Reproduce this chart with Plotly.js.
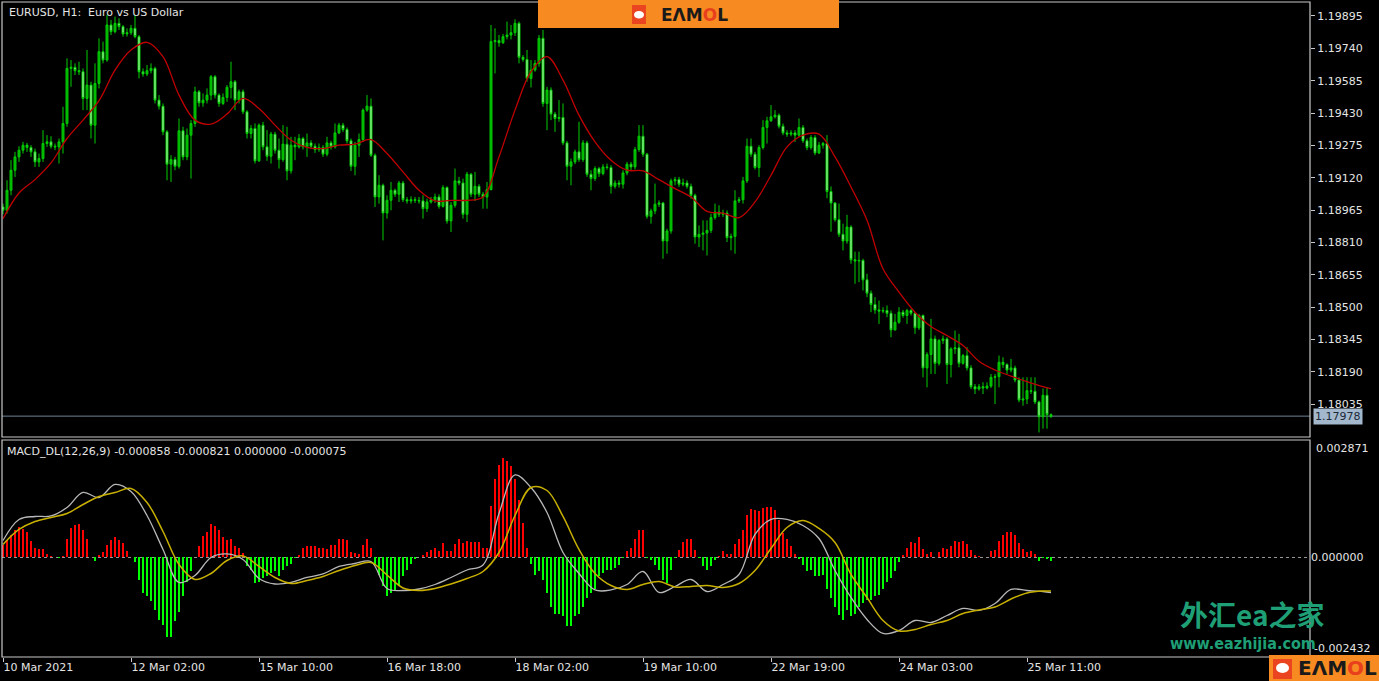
<!DOCTYPE html>
<html><head><meta charset="utf-8">
<script src="https://cdn.plot.ly/plotly-3.0.1.min.js"></script>
<style>html,body{margin:0;padding:0;background:#000;overflow:hidden}#chart{width:1379px;height:681px}</style>
</head><body><div id="chart"></div>
<script>
// ---------------- data ----------------
const symbolTitle = 'EURUSD, H1:  Euro vs US Dollar';
const macdTitle = 'MACD_DL(12,26,9) -0.000858 -0.000821 0.000000 -0.000075';
const timeTickBars = [0, 32, 64, 96, 128, 160, 192, 224, 256];
const timeTickLabels = ['10 Mar 2021', '12 Mar 02:00', '15 Mar 10:00', '16 Mar 18:00', '18 Mar 02:00', '19 Mar 10:00', '22 Mar 19:00', '24 Mar 03:00', '25 Mar 11:00'];
const priceTicks = [1.19895, 1.19740, 1.19585, 1.19430, 1.19275, 1.19120, 1.18965, 1.18810, 1.18655, 1.18500, 1.18345, 1.18190, 1.18035];
const lastPrice = 1.17978;
const macdMax = 0.002871;
const macdMin = -0.002432;

const open = [
1.18980,1.18964,1.19060,1.19156,1.19220,1.19252,1.19276,1.19265,1.19244,1.19196,
1.19212,1.19284,1.19292,1.19271,1.19268,1.19292,1.19380,1.19644,1.19649,1.19633,
1.19628,1.19500,1.19564,1.19372,1.19572,1.19724,1.19684,1.19852,1.19820,1.19860,
1.19844,1.19809,1.19815,1.19836,1.19796,1.19628,1.19617,1.19633,1.19644,1.19492,
1.19463,1.19340,1.19185,1.19207,1.19175,1.19345,1.19220,1.19324,1.19380,1.19532,
1.19479,1.19492,1.19516,1.19604,1.19516,1.19476,1.19505,1.19553,1.19580,1.19492,
1.19532,1.19436,1.19332,1.19356,1.19201,1.19372,1.19268,1.19223,1.19329,1.19252,
1.19207,1.19281,1.19153,1.19276,1.19268,1.19308,1.19268,1.19287,1.19271,1.19255,
1.19265,1.19233,1.19287,1.19268,1.19335,1.19372,1.19351,1.19297,1.19175,1.19276,
1.19303,1.19444,1.19463,1.19228,1.19028,1.19084,1.18951,1.19012,1.19060,1.19041,
1.19095,1.19015,1.19009,1.19015,1.19012,1.19009,1.18972,1.19004,1.19015,1.19028,
1.18983,1.19073,1.18913,1.18988,1.19105,1.19095,1.18945,1.19137,1.19041,1.19079,
1.19041,1.19028,1.19063,1.19772,1.19777,1.19767,1.19796,1.19804,1.19815,1.19860,
1.19697,1.19687,1.19596,1.19636,1.19668,1.19788,1.19476,1.19540,1.19425,1.19404,
1.19409,1.19287,1.19175,1.19196,1.19244,1.19207,1.19287,1.19137,1.19116,1.19164,
1.19140,1.19172,1.19169,1.19079,1.19095,1.19089,1.19143,1.19185,1.19172,1.19255,
1.19319,1.19233,1.18935,1.18961,1.18993,1.18999,1.18817,1.18865,1.19105,1.19111,
1.19089,1.19095,1.19079,1.19036,1.18836,1.18849,1.18855,1.18868,1.18929,1.18956,
1.18945,1.18951,1.18833,1.18839,1.19009,1.19015,1.19105,1.19271,1.19233,1.19169,
1.19265,1.19361,1.19393,1.19412,1.19420,1.19367,1.19335,1.19329,1.19335,1.19324,
1.19361,1.19297,1.19265,1.19313,1.19239,1.19276,1.19284,1.19054,1.18999,1.18919,
1.18849,1.18817,1.18884,1.18727,1.18721,1.18724,1.18631,1.18567,1.18513,1.18487,
1.18481,1.18484,1.18471,1.18391,1.18428,1.18476,1.18460,1.18484,1.18471,1.18401,
1.18460,1.18209,1.18273,1.18348,1.18231,1.18340,1.18348,1.18225,1.18300,1.18305,
1.18231,1.18268,1.18209,1.18119,1.18108,1.18119,1.18113,1.18122,1.18164,1.18167,
1.18236,1.18225,1.18199,1.18209,1.18151,1.18055,1.18060,1.18100,1.18097,1.18046,
1.17975,1.18078,1.17985];

const high = [
1.18996,1.19108,1.19204,1.19244,1.19271,1.19292,1.19287,1.19276,1.19260,1.19236,
1.19348,1.19324,1.19319,1.19284,1.19308,1.19460,1.19692,1.19684,1.19668,1.19676,
1.19644,1.19732,1.19580,1.19668,1.19788,1.19772,1.19900,1.19876,1.19892,1.19884,
1.19852,1.19836,1.19852,1.19900,1.19804,1.19644,1.19660,1.19668,1.19652,1.19516,
1.19476,1.19348,1.19228,1.19220,1.19404,1.19364,1.19356,1.19396,1.19556,1.19540,
1.19524,1.19548,1.19612,1.19612,1.19524,1.19524,1.19564,1.19676,1.19588,1.19543,
1.19543,1.19444,1.19372,1.19380,1.19380,1.19388,1.19348,1.19340,1.19340,1.19308,
1.19372,1.19364,1.19316,1.19316,1.19329,1.19316,1.19332,1.19300,1.19284,1.19284,
1.19276,1.19316,1.19297,1.19380,1.19383,1.19383,1.19361,1.19308,1.19292,1.19332,
1.19452,1.19516,1.19500,1.19236,1.19132,1.19092,1.19036,1.19100,1.19068,1.19105,
1.19105,1.19028,1.19031,1.19028,1.19028,1.19036,1.19020,1.19028,1.19044,1.19041,
1.19084,1.19079,1.19004,1.19164,1.19124,1.19116,1.19148,1.19143,1.19148,1.19089,
1.19052,1.19100,1.19852,1.19836,1.19804,1.19809,1.19868,1.19852,1.19879,1.19868,
1.19708,1.19732,1.19684,1.19684,1.19804,1.19828,1.19556,1.19553,1.19436,1.19492,
1.19476,1.19297,1.19212,1.19255,1.19388,1.19300,1.19297,1.19156,1.19175,1.19172,
1.19185,1.19188,1.19180,1.19108,1.19108,1.19156,1.19196,1.19196,1.19268,1.19372,
1.19372,1.19239,1.18972,1.19092,1.19012,1.19004,1.18876,1.19116,1.19124,1.19124,
1.19116,1.19108,1.19092,1.19044,1.18892,1.18916,1.18916,1.18948,1.18996,1.18988,
1.18967,1.18964,1.18852,1.19060,1.19028,1.19124,1.19308,1.19308,1.19244,1.19276,
1.19396,1.19412,1.19468,1.19444,1.19428,1.19380,1.19348,1.19348,1.19348,1.19404,
1.19372,1.19308,1.19324,1.19324,1.19292,1.19292,1.19324,1.19078,1.19004,1.18996,
1.18900,1.18942,1.18892,1.18766,1.18766,1.18732,1.18660,1.18580,1.18548,1.18532,
1.18500,1.18508,1.18484,1.18468,1.18500,1.18487,1.18492,1.18492,1.18476,1.18468,
1.18465,1.18284,1.18444,1.18364,1.18348,1.18364,1.18356,1.18308,1.18388,1.18372,
1.18276,1.18308,1.18222,1.18132,1.18132,1.18140,1.18140,1.18180,1.18180,1.18268,
1.18260,1.18231,1.18252,1.18220,1.18164,1.18164,1.18164,1.18164,1.18164,1.18052,
1.18110,1.18116,1.17991];

const low = [
1.18945,1.18948,1.19036,1.19124,1.19196,1.19236,1.19244,1.19220,1.19172,1.19172,
1.19196,1.19268,1.19260,1.19252,1.19188,1.19236,1.19364,1.19556,1.19612,1.19612,
1.19444,1.19444,1.19308,1.19284,1.19548,1.19668,1.19676,1.19804,1.19812,1.19828,
1.19796,1.19796,1.19804,1.19788,1.19596,1.19604,1.19607,1.19620,1.19476,1.19447,
1.19324,1.19108,1.19100,1.19156,1.19164,1.19204,1.19204,1.19116,1.19364,1.19460,
1.19460,1.19476,1.19492,1.19500,1.19460,1.19468,1.19484,1.19500,1.19444,1.19476,
1.19425,1.19308,1.19308,1.19188,1.19196,1.19252,1.19201,1.19188,1.19236,1.19164,
1.19196,1.19108,1.19140,1.19204,1.19260,1.19255,1.19220,1.19260,1.19239,1.19244,
1.19220,1.19223,1.19255,1.19260,1.19329,1.19340,1.19284,1.19153,1.19132,1.19220,
1.19292,1.19436,1.19220,1.18980,1.18996,1.18820,1.18924,1.18964,1.19028,1.19004,
1.19004,1.18996,1.18996,1.18999,1.18996,1.18924,1.18956,1.18996,1.18999,1.18972,
1.18977,1.18900,1.18860,1.18977,1.19084,1.18924,1.18908,1.19028,1.19009,1.19028,
1.18972,1.18972,1.19060,1.19620,1.19748,1.19761,1.19783,1.19783,1.19799,1.19668,
1.19676,1.19580,1.19553,1.19628,1.19652,1.19460,1.19348,1.19396,1.19340,1.19388,
1.19276,1.19108,1.19084,1.19185,1.19196,1.19196,1.19124,1.19060,1.19105,1.19124,
1.19132,1.19159,1.19044,1.19068,1.19073,1.19068,1.19132,1.19156,1.19159,1.19244,
1.19220,1.18924,1.18900,1.18945,1.18980,1.18732,1.18756,1.18852,1.19084,1.19076,
1.19079,1.19068,1.19020,1.18804,1.18788,1.18772,1.18748,1.18855,1.18919,1.18932,
1.18932,1.18812,1.18772,1.18756,1.18999,1.18996,1.19095,1.19220,1.19159,1.19124,
1.19255,1.19284,1.19388,1.19404,1.19356,1.19324,1.19316,1.19319,1.19292,1.19316,
1.19287,1.19252,1.19255,1.19228,1.19233,1.19260,1.19022,1.18862,1.18910,1.18836,
1.18772,1.18804,1.18708,1.18612,1.18620,1.18580,1.18548,1.18476,1.18468,1.18420,
1.18471,1.18452,1.18356,1.18388,1.18420,1.18449,1.18420,1.18460,1.18372,1.18391,
1.18164,1.18116,1.18180,1.18180,1.18220,1.18324,1.18132,1.18164,1.18276,1.18212,
1.18225,1.18196,1.18108,1.18084,1.18100,1.18084,1.18106,1.18113,1.18036,1.18116,
1.18209,1.18180,1.18188,1.18140,1.18044,1.18028,1.18036,1.18084,1.18036,1.17900,
1.17918,1.17918,1.17969];

const close = [
1.18964,1.19060,1.19156,1.19220,1.19252,1.19276,1.19265,1.19244,1.19196,1.19212,
1.19284,1.19292,1.19271,1.19268,1.19292,1.19380,1.19644,1.19649,1.19633,1.19628,
1.19500,1.19564,1.19372,1.19572,1.19724,1.19684,1.19852,1.19820,1.19860,1.19844,
1.19809,1.19815,1.19836,1.19796,1.19628,1.19617,1.19633,1.19644,1.19492,1.19463,
1.19340,1.19185,1.19207,1.19175,1.19345,1.19220,1.19324,1.19380,1.19532,1.19479,
1.19492,1.19516,1.19604,1.19516,1.19476,1.19505,1.19553,1.19580,1.19492,1.19532,
1.19436,1.19332,1.19356,1.19201,1.19372,1.19268,1.19223,1.19329,1.19252,1.19207,
1.19281,1.19153,1.19276,1.19268,1.19308,1.19268,1.19287,1.19271,1.19255,1.19265,
1.19233,1.19287,1.19268,1.19335,1.19372,1.19351,1.19297,1.19175,1.19276,1.19303,
1.19444,1.19463,1.19228,1.19028,1.19084,1.18951,1.19012,1.19060,1.19041,1.19095,
1.19015,1.19009,1.19015,1.19012,1.19009,1.18972,1.19004,1.19015,1.19028,1.18983,
1.19073,1.18913,1.18988,1.19105,1.19095,1.18945,1.19137,1.19041,1.19079,1.19041,
1.19028,1.19063,1.19772,1.19777,1.19767,1.19796,1.19804,1.19815,1.19860,1.19697,
1.19687,1.19596,1.19636,1.19668,1.19788,1.19476,1.19540,1.19425,1.19404,1.19409,
1.19287,1.19175,1.19196,1.19244,1.19207,1.19287,1.19137,1.19116,1.19164,1.19140,
1.19172,1.19169,1.19079,1.19095,1.19089,1.19143,1.19185,1.19172,1.19255,1.19319,
1.19233,1.18935,1.18961,1.18993,1.18999,1.18817,1.18865,1.19105,1.19111,1.19089,
1.19095,1.19079,1.19036,1.18836,1.18849,1.18855,1.18868,1.18929,1.18956,1.18945,
1.18951,1.18833,1.18839,1.19009,1.19015,1.19105,1.19271,1.19233,1.19169,1.19265,
1.19361,1.19393,1.19412,1.19420,1.19367,1.19335,1.19329,1.19335,1.19324,1.19361,
1.19297,1.19265,1.19313,1.19239,1.19276,1.19284,1.19054,1.18999,1.18919,1.18849,
1.18817,1.18884,1.18727,1.18721,1.18724,1.18631,1.18567,1.18513,1.18487,1.18481,
1.18484,1.18471,1.18391,1.18428,1.18476,1.18460,1.18484,1.18471,1.18401,1.18460,
1.18209,1.18273,1.18348,1.18231,1.18340,1.18348,1.18225,1.18300,1.18305,1.18231,
1.18268,1.18209,1.18119,1.18108,1.18119,1.18113,1.18122,1.18164,1.18167,1.18236,
1.18225,1.18199,1.18209,1.18151,1.18055,1.18060,1.18100,1.18097,1.18046,1.17975,
1.18078,1.17985,1.17978];

// bar positions at which the moving average and MACD lines were read
const lineIdx = [0,4,8,12,16,20,24,28,32,36,40,44,48,52,56,60,64,68,72,76,80,84,88,92,96,100,104,108,112,116,
120,124,128,132,136,140,144,148,152,156,160,164,168,172,176,180,184,188,192,196,200,204,208,212,216,220,224,228,
232,236,240,244,248,252,256,260,262];

const maValues = [
1.18924,1.19047,1.19111,1.19191,1.19308,1.19396,1.19489,1.19636,1.19732,1.19769,
1.19700,1.19516,1.19396,1.19377,1.19425,1.19500,1.19452,1.19372,1.19300,1.19265,
1.19260,1.19276,1.19281,1.19303,1.19236,1.19148,1.19060,1.19009,1.19012,1.19012,
1.19028,1.19220,1.19444,1.19628,1.19700,1.19588,1.19420,1.19292,1.19204,1.19156,
1.19153,1.19111,1.19068,1.19028,1.18959,1.18951,1.18929,1.19004,1.19132,1.19268,
1.19324,1.19329,1.19220,1.19076,1.18916,1.18684,1.18572,1.18476,1.18407,1.18364,
1.18316,1.18241,1.18199,1.18170,1.18143,1.18119,1.18110];

const macdMain = [
0.000415,0.000929,0.001002,0.001014,0.001222,0.001589,0.001466,0.001784,0.001613,0.001026,
0.000196,-0.000611,-0.000440,0.000000,0.000086,-0.000049,-0.000513,-0.000648,-0.000611,-0.000489,
-0.000403,-0.000220,-0.000147,-0.000098,-0.000758,-0.000807,-0.000770,-0.000660,-0.000489,-0.000306,
-0.000183,0.001075,0.002016,0.001711,0.001100,0.000122,-0.000391,-0.000794,-0.000794,-0.000660,
-0.000342,-0.000855,-0.000709,-0.000538,-0.000831,-0.000660,-0.000415,0.000562,0.000929,0.000929,
0.000782,0.000464,-0.000318,-0.000978,-0.001515,-0.001857,-0.001784,-0.001540,-0.001589,-0.001418,
-0.001246,-0.001295,-0.001124,-0.000782,-0.000807,-0.000831,-0.000858];

const macdSignal = [
0.000318,0.000684,0.000880,0.000978,0.001075,0.001295,0.001491,0.001589,0.001686,0.001344,
0.000635,-0.000171,-0.000538,-0.000391,-0.000073,0.000037,-0.000220,-0.000489,-0.000635,-0.000562,
-0.000464,-0.000318,-0.000196,-0.000122,-0.000428,-0.000745,-0.000807,-0.000758,-0.000648,-0.000513,
-0.000342,0.000122,0.001026,0.001711,0.001637,0.001002,0.000196,-0.000391,-0.000684,-0.000782,
-0.000660,-0.000587,-0.000721,-0.000709,-0.000684,-0.000733,-0.000635,-0.000318,0.000220,0.000733,
0.000904,0.000709,0.000367,-0.000415,-0.000978,-0.001540,-0.001796,-0.001760,-0.001637,-0.001540,
-0.001369,-0.001283,-0.001210,-0.001014,-0.000868,-0.000819,-0.000821];

const macdHist = [
0.000306,0.000428,0.000550,0.000672,0.000733,0.000684,0.000635,0.000391,0.000244,0.000196,
0.000196,0.000086,0.000037,0.000005,-0.000012,0.000037,0.000464,0.000709,0.000794,0.000819,
0.000672,0.000464,0.000024,-0.000098,0.000061,0.000122,0.000306,0.000428,0.000489,0.000428,
0.000342,0.000147,0.000007,-0.000122,-0.000550,-0.000880,-0.000953,-0.001075,-0.001283,-0.001528,
-0.001650,-0.001931,-0.001931,-0.001564,-0.001320,-0.000953,-0.000587,-0.000342,0.000024,0.000269,
0.000525,0.000635,0.000819,0.000758,0.000672,0.000489,0.000428,0.000464,0.000269,0.000244,
0.000098,-0.000220,-0.000306,-0.000635,-0.000587,-0.000513,-0.000464,-0.000391,-0.000342,-0.000464,
-0.000306,-0.000220,-0.000147,-0.000024,0.000061,0.000220,0.000281,0.000281,0.000281,0.000220,
0.000220,0.000196,0.000306,0.000306,0.000440,0.000464,0.000428,0.000122,0.000098,0.000086,
0.000306,0.000464,0.000220,-0.000183,-0.000428,-0.000709,-0.000953,-0.000880,-0.000831,-0.000709,
-0.000464,-0.000306,-0.000147,-0.000049,0.000024,0.000061,0.000122,0.000171,0.000220,0.000147,
0.000342,0.000159,0.000147,0.000330,0.000452,0.000342,0.000415,0.000367,0.000367,0.000367,
0.000244,0.000244,0.001259,0.001906,0.002261,0.002420,0.002346,0.002224,0.001906,0.001405,
0.000831,0.000220,-0.000159,-0.000428,-0.000342,-0.000550,-0.000880,-0.001198,-0.001369,-0.001369,
-0.001442,-0.001686,-0.001686,-0.001442,-0.001369,-0.001198,-0.001002,-0.000880,-0.000758,-0.000464,
-0.000391,-0.000306,-0.000306,-0.000269,-0.000183,-0.000024,0.000147,0.000244,0.000440,0.000660,
0.000660,-0.000024,-0.000061,-0.000183,-0.000306,-0.000550,-0.000635,-0.000306,-0.000024,0.000183,
0.000367,0.000440,0.000440,0.000183,-0.000024,-0.000220,-0.000306,-0.000208,-0.000061,0.000037,
0.000147,0.000086,0.000086,0.000330,0.000440,0.000660,0.001039,0.001173,0.001161,0.001124,
0.001198,0.001222,0.001222,0.001161,0.000917,0.000587,0.000464,0.000281,0.000086,-0.000049,
-0.000183,-0.000342,-0.000306,-0.000464,-0.000464,-0.000428,-0.000758,-0.001002,-0.001198,-0.001405,
-0.001528,-0.001283,-0.001442,-0.001369,-0.001198,-0.001124,-0.001039,-0.001039,-0.000953,-0.000917,
-0.000758,-0.000587,-0.000513,-0.000342,-0.000110,0.000061,0.000244,0.000379,0.000354,0.000489,
0.000196,0.000086,0.000134,0.000012,0.000134,0.000244,0.000196,0.000281,0.000415,0.000379,
0.000415,0.000330,0.000183,0.000061,0.000037,0.000012,0.000012,0.000159,0.000183,0.000415,
0.000550,0.000635,0.000635,0.000550,0.000342,0.000196,0.000134,0.000159,0.000086,-0.000086,
-0.000007,-0.000049,-0.000075];

// ---------------- layout geometry ----------------
const W = 1379, H = 681;
const M = {l: 2, r: 69, t: 2, b: 24};
const plotW = W - M.l - M.r, plotH = H - M.t - M.b;
const px = p => (p - M.l) / plotW;          // pixel x -> paper x
const py = p => (H - M.b - p) / plotH;      // pixel y -> paper y
const mainDomain = [py(437), 1];
const macdDomain = [0, py(440)];

const FRAME = '#c8c8c8';
const TXT = '#e4e4e4';
const FONT = 'DejaVu Sans';

const barIdx = close.map((_, i) => i);

const traces = [
  {
    type: 'candlestick', x: barIdx, open: open, high: high, low: low, close: close,
    xaxis: 'x', yaxis: 'y',
    increasing: {line: {color: '#00cc00', width: 1}, fillcolor: '#00b000'},
    decreasing: {line: {color: '#00cc00', width: 1}, fillcolor: '#ccffcc'},
    whiskerwidth: 0, hoverinfo: 'skip'
  },
  {
    type: 'scatter', mode: 'lines', x: lineIdx, y: maValues, xaxis: 'x', yaxis: 'y',
    line: {color: '#c00000', width: 1.3, shape: 'spline'}, hoverinfo: 'skip'
  },
  {
    type: 'bar', x: barIdx, y: macdHist, xaxis: 'x', yaxis: 'y2', width: 0.5,
    marker: {color: macdHist.map(v => v >= 0 ? '#ff0000' : '#00ff00'), line: {width: 0}},
    hoverinfo: 'skip'
  },
  {
    type: 'scatter', mode: 'lines', x: lineIdx, y: macdMain, xaxis: 'x', yaxis: 'y2',
    line: {color: '#b8b8b8', width: 1.3, shape: 'spline'}, hoverinfo: 'skip'
  },
  {
    type: 'scatter', mode: 'lines', x: lineIdx, y: macdSignal, xaxis: 'x', yaxis: 'y2',
    line: {color: '#c8b000', width: 1.5, shape: 'spline'}, hoverinfo: 'skip'
  }
];

const layout = {
  width: W, height: H, margin: M,
  paper_bgcolor: '#000000', plot_bgcolor: '#000000',
  showlegend: false, hovermode: false,
  font: {family: FONT, size: 11, color: TXT},
  bargap: 0,
  xaxis: {
    anchor: 'y2', range: [-0.25, 326.75], fixedrange: true,
    tickvals: timeTickBars, ticktext: timeTickLabels,
    ticks: 'outside', ticklen: 4, tickcolor: FRAME, tickwidth: 1,
    ticklabelposition: 'outside right',
    tickfont: {family: FONT, size: 11, color: TXT},
    showgrid: false, zeroline: false, showline: false,
    rangeslider: {visible: false}
  },
  yaxis: {
    domain: mainDomain, anchor: 'x', side: 'right', range: [1.17878, 1.19962], fixedrange: true,
    tickvals: priceTicks, tickformat: '.5f',
    ticks: 'outside', ticklen: 4, tickcolor: FRAME,
    tickfont: {family: FONT, size: 11, color: TXT},
    showgrid: false, zeroline: false, showline: false
  },
  yaxis2: {
    domain: macdDomain, anchor: 'x', side: 'right', range: [macdMin, macdMax], fixedrange: true,
    tickvals: [0], tickformat: '.6f', ticks: '',
    tickfont: {family: FONT, size: 11, color: TXT},
    showgrid: false, zeroline: false, showline: false
  },
  shapes: [
    // current price line
    {type: 'line', layer: 'below', xref: 'paper', yref: 'y', x0: 0, x1: 1, y0: lastPrice, y1: lastPrice,
     line: {color: '#6f8296', width: 1}},
    // MACD zero level
    {type: 'line', layer: 'below', xref: 'paper', yref: 'y2', x0: 0, x1: 1, y0: 0, y1: 0,
     line: {color: '#9a9a9a', width: 1, dash: 'dot'}},
    // frames
    {type: 'rect', xref: 'paper', yref: 'paper', x0: 0, x1: 1, y0: mainDomain[0], y1: mainDomain[1],
     line: {color: FRAME, width: 1.2}, fillcolor: 'rgba(0,0,0,0)'},
    {type: 'rect', xref: 'paper', yref: 'paper', x0: 0, x1: 1, y0: macdDomain[0], y1: macdDomain[1],
     line: {color: FRAME, width: 1.2}, fillcolor: 'rgba(0,0,0,0)'},
    // top watermark banner
    {type: 'rect', xref: 'paper', yref: 'paper', x0: px(538), x1: px(839), y0: py(28), y1: py(0),
     line: {width: 0}, fillcolor: '#f88a22'},
    {type: 'rect', xref: 'paper', yref: 'paper', x0: px(632), x1: px(646), y0: py(24), y1: py(5),
     line: {width: 0}, fillcolor: '#ea4520'},
    {type: 'circle', xref: 'paper', yref: 'paper', x0: px(634), x1: px(644), y0: py(18.5), y1: py(11),
     line: {width: 0}, fillcolor: '#ffffff'},
    // bottom-right watermark box
    {type: 'rect', xref: 'paper', yref: 'paper', x0: px(1269), x1: px(1379), y0: py(681), y1: py(655),
     line: {width: 0}, fillcolor: '#f88a22'},
    {type: 'rect', xref: 'paper', yref: 'paper', x0: px(1273), x1: px(1292), y0: py(679), y1: py(659),
     line: {width: 0}, fillcolor: '#ea4520'},
    {type: 'circle', xref: 'paper', yref: 'paper', x0: px(1276), x1: px(1289), y0: py(673), y1: py(663),
     line: {width: 0}, fillcolor: '#ffffff'}
  ],
  annotations: [
    {text: symbolTitle, xref: 'paper', yref: 'paper', x: 0, y: 1, xanchor: 'left', yanchor: 'top',
     xshift: 5, yshift: -2, showarrow: false, font: {family: FONT, size: 11, color: TXT}},
    {text: macdTitle, xref: 'paper', yref: 'paper', x: 0, y: macdDomain[1], xanchor: 'left', yanchor: 'top',
     xshift: 3, yshift: -3, showarrow: false, font: {family: FONT, size: 11, color: TXT}},
    {text: macdMax.toFixed(6), xref: 'paper', yref: 'y2', x: 1, y: macdMax, xanchor: 'left', yanchor: 'top',
     xshift: 4, showarrow: false, font: {family: FONT, size: 11, color: TXT}},
    {text: macdMin.toFixed(6), xref: 'paper', yref: 'y2', x: 1, y: macdMin, xanchor: 'left', yanchor: 'bottom',
     xshift: 2, showarrow: false, font: {family: FONT, size: 11, color: TXT}},
    {text: lastPrice.toFixed(5), xref: 'paper', yref: 'y', x: 1, y: lastPrice, xanchor: 'left', yanchor: 'middle',
     xshift: 3, showarrow: false, bgcolor: '#a3b8cc', borderpad: 1,
     font: {family: FONT, size: 11, color: '#1c2838'}},
    // watermarks
    {text: '<b>EΛM<span style="color:#e8401c">O</span>L</b>', xref: 'paper', yref: 'paper', x: px(694), y: py(15),
     xanchor: 'center', yanchor: 'middle', showarrow: false, font: {family: FONT, size: 17, color: '#1a1a1a'}},
    {text: '<b>EΛM<span style="color:#e8401c">O</span>L</b>', xref: 'paper', yref: 'paper', x: px(1337), y: py(668),
     xanchor: 'center', yanchor: 'middle', showarrow: false, font: {family: FONT, size: 20, color: '#1a1a1a'}},
    {text: '<b>外汇ea之家</b>', xref: 'paper', yref: 'paper', x: px(1252), y: py(614),
     xanchor: 'center', yanchor: 'middle', showarrow: false,
     font: {family: 'Noto Sans CJK SC', size: 28, color: '#1f9f76'}},
    {text: '<b>www.eazhijia.com</b>', xref: 'paper', yref: 'paper', x: px(1243), y: py(643),
     xanchor: 'center', yanchor: 'middle', showarrow: false,
     font: {family: 'DejaVu Sans Condensed, DejaVu Sans', size: 16, color: '#1f9f76'}}
  ]
};

Plotly.newPlot('chart', traces, layout, {staticPlot: true, displayModeBar: false});
</script>
</body></html>
